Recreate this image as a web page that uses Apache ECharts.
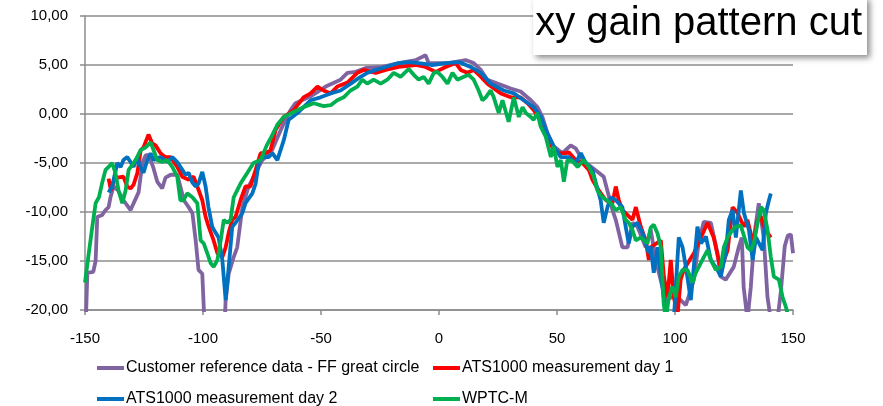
<!DOCTYPE html>
<html>
<head>
<meta charset="utf-8">
<script src="https://cdn.jsdelivr.net/npm/echarts@6/dist/echarts.min.js"></script>
<style>
  html, body { margin: 0; padding: 0; background: #fff; }
  #chart { width: 883px; height: 406px; }
</style>
</head>
<body>
<div id="chart"></div>
<script>
// angle (deg) / gain (dB) pairs
const customerRef = [
  [-150, -24], [-149, -16.2], [-146.5, -16.1], [-145.5, -15], [-144.8, -10.5], [-142.7, -10.3],
  [-141.3, -9.8], [-140, -9.5], [-139.2, -8.5], [-137.9, -7.4], [-136, -7.8], [-133.7, -8.8],
  [-130.7, -9.8], [-130, -9.6], [-127.3, -8], [-125.7, -5], [-124.3, -4.2], [-123, -4.2],
  [-121, -5.5], [-119.4, -6.9], [-117.3, -7.6], [-115.9, -6.5], [-113.7, -6.2], [-110.9, -6.2],
  [-108.1, -8.8], [-106.1, -9.5], [-104.5, -10.1], [-103.1, -12.9], [-101.9, -15.9], [-100.3, -16.3],
  [-98.9, -24], [-91.3, -24], [-90.4, -19], [-89.1, -16.3], [-87, -14.6], [-85.5, -13.6],
  [-83.3, -9.5], [-80.7, -7.4], [-74.9, -4.7], [-71.3, -4.0], [-67, -1.6], [-62.9, 0.4],
  [-60.8, 1.1], [-54.4, 1.8], [-48, 2.8], [-41.7, 3.5], [-38.8, 4.2], [-35.3, 4.3],
  [-31, 4.7], [-24, 4.8], [-17, 5.2], [-9.9, 5.5], [-5.7, 6.0], [-4.4, 5.2],
  [4.1, 5.2], [11.3, 5.5], [14.7, 5.2], [17.7, 4.5], [20.5, 3.5], [24.8, 3.1],
  [30.4, 2.6], [34.6, 2.3], [38.9, 1.4], [41.7, 0.7], [43.8, -0.3], [46, -2],
  [48.6, -3.3], [52.3, -4], [55.8, -3.2], [57.9, -3.5], [60.8, -4.7], [67.7, -6],
  [69.8, -6.4], [73.5, -9.8], [74.9, -10.8], [77.7, -13.6], [79.9, -13.6], [82, -11.1],
  [84.1, -11.5], [87.6, -13.6], [89.7, -11.8], [91.9, -15], [96.1, -19], [100.3, -18.5],
  [104.6, -19.5], [108, -16.9], [110.1, -13], [112.2, -11], [115.2, -11.1], [118, -14.2],
  [119.4, -16.6], [121.5, -16.9], [124.9, -15.6], [127, -13.6], [128.3, -12.6], [129.1, -17.7],
  [130.7, -21], [132.1, -17.7], [133.8, -12], [135.5, -9.1], [137.6, -12.6], [139.2, -18.7],
  [140.6, -21], [143.2, -21.5], [144.9, -18], [146.5, -13.5], [147.8, -12.4], [149.1, -12.3],
  [150, -14.2]
];

const atsDay1 = [
  [-140, -6.6], [-139, -7.8], [-137.9, -6.9], [-136.3, -6.5], [-133.7, -6.4], [-132.1, -7.4],
  [-130.7, -7.6], [-129.4, -7.2], [-127.8, -6], [-126.4, -3.7], [-125.2, -3.4], [-123.1, -2.1],
  [-121.5, -3], [-120.1, -3.2], [-118, -4], [-115.9, -4.4], [-113.7, -4.4], [-110.9, -5.4],
  [-108.8, -6.4], [-106.1, -6.7], [-104, -6.4], [-102.4, -7.4], [-100.3, -8.8], [-98.9, -10.5],
  [-97.6, -11.5], [-95.5, -12.9], [-93.9, -14.2], [-91.8, -14.6], [-90.4, -13.6], [-89.1, -12.1],
  [-87.6, -10.8], [-86.2, -10.5], [-84.1, -8.8], [-82, -7.4], [-79.9, -7.4], [-77.7, -5.7],
  [-75.6, -4], [-73.5, -4], [-71.4, -3.7], [-69.2, -1.6], [-65.8, -0.3], [-61.6, 0.4],
  [-57.4, 1.7], [-54.4, 2.1], [-51.5, 2.8], [-48.9, 2.4], [-45.9, 2.1], [-43.1, 2.8],
  [-38.8, 3.2], [-34.6, 4.2], [-31.9, 4.5], [-26.8, 4.2], [-22.6, 4.5], [-17.1, 4.8],
  [-9.9, 5.0], [-5.7, 4.8], [-1.4, 4.3], [2.8, 4.8], [7.1, 5.2], [9.2, 4.5],
  [12, 4.2], [14.7, 4.5], [17.7, 3.8], [20.5, 3.1], [26.2, 2.1], [30.4, 1.7],
  [34.6, 1.7], [37.5, 1.1], [40.1, 0.4], [43.1, -0.6], [44.4, -1.3], [46, -2.3],
  [48.6, -3.7], [50.7, -4], [53.7, -4], [55, -3.9], [57.9, -4.7], [60.8, -5],
  [63.5, -5.7], [65, -6.7], [67.7, -7.8], [70.7, -8.8], [73.5, -9.1], [74.9, -7.4],
  [76.2, -8.8], [77.7, -9.8], [82, -10.8], [83.4, -9.5], [85.5, -11.5], [87.6, -12.9],
  [88.9, -14.9], [89.7, -13.6], [94, -12.9], [95.3, -16.6], [96.8, -18.7], [98.2, -14.9],
  [99.5, -18.7], [101.1, -20.5], [102.4, -16.9], [103.7, -15.9], [108, -14.2], [111, -12.6],
  [113.8, -11.1], [116.4, -12.6], [119.4, -15.9], [122.3, -13.9], [124.4, -9.5], [126.5, -10.1],
  [129.2, -11.5], [130.7, -10.8], [132.1, -12.2], [133.4, -12.9], [135, -10.8], [136.4, -10.5],
  [137.6, -11.5], [140.6, -12.6]
];

const atsDay2 = [
  [-140, -8], [-138.5, -7.4], [-136.3, -5], [-134.9, -5.4], [-133.7, -4.7], [-132.1, -4.4],
  [-130.7, -4.9], [-129.4, -5.4], [-127.9, -4.4], [-126.5, -5.4], [-125.2, -6.0], [-123.6, -4.7],
  [-122.2, -4], [-120.9, -4.7], [-118, -4.4], [-115.1, -4.9], [-113, -4.4], [-110.9, -4.9],
  [-110.3, -4.7], [-107.4, -6.2], [-106.1, -6], [-104.5, -7], [-103.1, -7.4], [-101.9, -7.1],
  [-100.3, -5.9], [-98.9, -7.4], [-97.7, -9.5], [-96.1, -11.5], [-94.7, -12.1], [-93.4, -12.6],
  [-91.8, -14.9], [-90.4, -19], [-89.1, -15.6], [-87.6, -11.5], [-86.2, -11.1], [-83.3, -10.1],
  [-82, -9.1], [-79.1, -8.1], [-77.7, -7.1], [-76.4, -5], [-74.9, -4.4], [-72.2, -4.4],
  [-70.6, -4], [-68.5, -4.7], [-65.8, -2.7], [-63.7, -0.6], [-60, 0.1], [-57.4, 0.7],
  [-54.4, 1.4], [-50.2, 1.7], [-45.9, 2.1], [-41.7, 2.4], [-37.4, 3.1], [-33.2, 3.8],
  [-30.4, 4.2], [-26.8, 4.5], [-22.6, 4.8], [-17.1, 5.2], [-12.8, 5.3], [-8.6, 5.2],
  [-2.8, 5], [2.8, 5.2], [8.4, 5.3], [13.4, 4.8], [17.7, 4.2], [21.9, 3.1],
  [27.4, 2.4], [31.7, 2.1], [35.9, 1.4], [40.1, 0.7], [43.1, -0.3], [46, -2],
  [48.6, -3.3], [51.6, -4.4], [55, -4.4], [57.9, -5], [60.1, -4], [62.2, -5],
  [65, -5.7], [66.4, -7], [68.5, -8.8], [69.8, -11.1], [71.4, -9.5], [72.8, -8.5],
  [74.9, -8.8], [77.7, -9.5], [79.1, -11.5], [80.4, -13.2], [81.9, -11.5], [84.1, -11.1],
  [86.2, -12.1], [88.9, -14.2], [89.7, -13.5], [91, -16.2], [92.6, -13.6], [95.2, -18.7],
  [97.4, -21.5], [99.5, -21], [101.6, -12.6], [103.2, -13.6], [104.6, -15.6], [106.7, -19],
  [109.5, -11.5], [111, -13.2], [113.1, -12.5], [115.2, -14.9], [118, -15.9], [119.4, -16.6],
  [121.5, -14.2], [122.8, -10.8], [124.4, -9.8], [125.8, -12.6], [127.9, -7.8], [129.2, -10.1],
  [131.3, -11.8], [132.9, -14.9], [134.3, -12.6], [137.1, -13.9], [138.5, -10.1], [139.8, -8.8],
  [140.6, -8.1]
];

const wptcM = [
  [-150, -17.2], [-148.4, -14.2], [-146.9, -11.5], [-145.5, -9.1], [-144.1, -8.5], [-142.7, -7],
  [-141.3, -5.7], [-140, -5.4], [-138.5, -5], [-137.1, -6], [-135.8, -7.8], [-134.2, -9.1],
  [-132.8, -7.8], [-131.5, -5.7], [-129.4, -5], [-127.9, -4.4], [-126.5, -3.7], [-124.3, -3.4],
  [-122.2, -2.9], [-120.9, -3.7], [-119.4, -4.7], [-117.3, -4.9], [-115.1, -4.7], [-113, -5.4],
  [-110.9, -6.4], [-109.6, -8.8], [-108.3, -8.8], [-106.7, -8.1], [-104.5, -8.5], [-102.4, -9.1],
  [-101, -12.9], [-99.7, -13.2], [-98.2, -14.2], [-96.8, -15.2], [-95.5, -15.6], [-93.9, -14.9],
  [-92.5, -12.9], [-91.2, -10.8], [-89.7, -11.1], [-88.3, -10.8], [-87, -8.5], [-84.1, -7.1],
  [-81.2, -6], [-78.6, -5], [-75.6, -4.7], [-73, -3.2], [-71.4, -2.5], [-68.5, -1.1],
  [-65.8, -0.3], [-61.6, 0.2], [-57.4, 0.7], [-53.1, 1.1], [-48.9, 0.8], [-45.9, 0.9],
  [-43.1, 1.4], [-40.4, 1.7], [-37.5, 2.4], [-34.6, 2.8], [-32.5, 3.5], [-30.4, 3.1],
  [-27.7, 3.5], [-24.7, 3.1], [-21.9, 3.5], [-19.2, 4.2], [-16.3, 3.8], [-12.8, 4.6],
  [-10.7, 4], [-8.6, 3.5], [-6.5, 3.8], [-4.4, 3.1], [-2.2, 4.2], [-0.7, 4.3],
  [1.4, 3.8], [3.6, 3.1], [5.7, 4.2], [7.8, 3.5], [10.5, 3.8], [12.6, 4],
  [14.7, 3.5], [16.8, 2.4], [18.4, 1.4], [19.8, 1.7], [21.9, 2.4], [23.2, 1.7],
  [25.3, 0.1], [26.9, 1.4], [29.5, -0.8], [31.7, 1.7], [33.8, -0.3], [35.4, 0.7],
  [36.8, 0.1], [38.9, -0.3], [40.1, -0.6], [41.7, 0.1], [43.1, -1.3], [45.2, -2.3],
  [47.4, -4.4], [48.6, -3.3], [50.2, -5.4], [51.6, -4.7], [52.9, -6.9], [54.4, -4.7],
  [56.5, -4.8], [58.7, -5.4], [61.3, -4.7], [63.5, -5.4], [65.6, -6.4], [67.1, -7.8],
  [69.3, -8.5], [72.8, -9.1], [74.9, -9.8], [77, -9.5], [79.1, -10.8], [80.4, -11.1],
  [81.9, -11.8], [83.4, -12.9], [85.5, -12.6], [88.3, -13.2], [89.7, -11.6], [91, -11.3],
  [92.6, -12.2], [94, -13.6], [95.2, -19.3], [96.1, -21], [97.4, -18.7], [98.9, -17.6],
  [100.3, -18.7], [101.6, -16.6], [103.2, -15.9], [105.3, -15.9], [107.4, -17.2], [108.8, -16.2],
  [110.1, -15.6], [112.2, -14.6], [113.8, -13.9], [115.2, -14.9], [117.3, -15.9], [119.4, -15.6],
  [120.7, -13.6], [122.3, -12.6], [124.4, -11.8], [125.8, -11.5], [127.9, -11.4], [130.7, -13.6],
  [132.1, -13.9], [133.4, -13.2], [135, -11.1], [136.4, -9.5], [137.6, -9.8], [139.2, -11.8],
  [140.6, -14.6], [141.9, -16.6], [144, -16.9], [145.6, -18.7], [147, -19.7], [148.3, -21]
];

const seriesNames = [
  'Customer reference data - FF great circle',
  'ATS1000 measurement day 1',
  'ATS1000 measurement day 2',
  'WPTC-M'
];
const seriesColors = ['#8064A2', '#FF0000', '#0070C0', '#00B050'];
const seriesData = [customerRef, atsDay1, atsDay2, wptcM];

const font = 'Liberation Sans';
const gridColor = '#8c8c8c';

// one legend per item so they sit in the same 2x2 layout as the original
const legendPos = [[97, 360], [433, 360], [97, 391], [433, 391]];

var myChart = echarts.init(document.getElementById('chart'));

const option = {
  animation: false,
  title: {
    text: 'xy gain pattern cut',
    right: 16,
    top: -3,
    padding: [4, 5, 8, 2],
    backgroundColor: '#fff',
    shadowBlur: 6,
    shadowColor: 'rgba(0,0,0,0.45)',
    shadowOffsetX: 3,
    shadowOffsetY: 3,
    textStyle: { fontFamily: font, fontSize: 40, fontWeight: 'normal', color: '#000', lineHeight: 46 }
  },
  legend: seriesNames.map((name, i) => ({
    data: [name],
    left: legendPos[i][0],
    top: legendPos[i][1],
    padding: 0,
    icon: 'rect',
    itemWidth: 27,
    itemHeight: 4,
    itemGap: 0,
    selectedMode: false,
    textStyle: { fontFamily: font, fontSize: 16, color: '#000', padding: [0, 0, 0, -3] }
  })),
  grid: { left: 85, right: 90, top: 16, bottom: 96 },
  xAxis: {
    type: 'value',
    min: -150,
    max: 150,
    interval: 50,
    axisLine: { onZero: false, lineStyle: { color: gridColor, width: 1.5 } },
    axisTick: { show: true, length: 5, lineStyle: { color: gridColor, width: 1.5 } },
    splitLine: { show: false },
    axisLabel: { fontFamily: font, fontSize: 15, color: '#000', margin: 21 }
  },
  yAxis: {
    type: 'value',
    min: -20,
    max: 10,
    interval: 5,
    axisLine: { show: true, onZero: false, lineStyle: { color: gridColor, width: 1.5 } },
    axisTick: { show: true, length: 5, lineStyle: { color: gridColor, width: 1.5 } },
    splitLine: { show: true, lineStyle: { color: gridColor, width: 1.5 } },
    axisLabel: {
      fontFamily: font, fontSize: 15, color: '#000', margin: 17,
      formatter: v => v.toFixed(2).replace('.', ',')
    }
  },
  series: seriesNames.map((name, i) => ({
    name: name,
    type: 'line',
    data: seriesData[i],
    showSymbol: false,
    symbol: 'none',
    clip: true,
    color: seriesColors[i],
    lineStyle: { width: 3.8, color: seriesColors[i] }
  }))
};

myChart.setOption(option);

window.addEventListener('resize', () => {
  myChart.resize();
});
</script>
</body>
</html>
